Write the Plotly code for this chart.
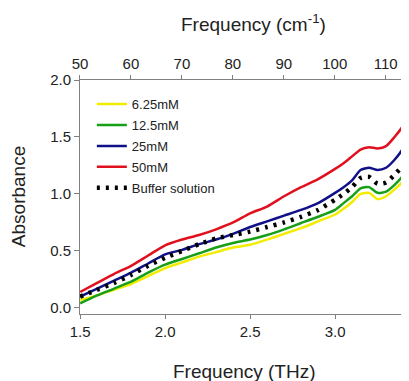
import plotly.graph_objects as go

freq_thz = [1.50, 1.60, 1.70, 1.80, 1.90, 2.00, 2.10, 2.20, 2.30, 2.40, 2.50, 2.60, 2.70,
            2.80, 2.90, 3.00, 3.05, 3.10, 3.15, 3.20, 3.25, 3.30, 3.35, 3.40, 3.44]

a_625 = [0.07, 0.11, 0.16, 0.21, 0.28, 0.35, 0.40, 0.45, 0.49, 0.53, 0.555, 0.60, 0.65,
         0.70, 0.76, 0.82, 0.87, 0.93, 1.00, 1.01, 0.955, 0.98, 1.04, 1.11, 1.19]
a_125 = [0.04, 0.11, 0.17, 0.23, 0.31, 0.38, 0.43, 0.48, 0.53, 0.57, 0.60, 0.64, 0.69,
         0.745, 0.80, 0.86, 0.92, 0.98, 1.05, 1.06, 1.01, 1.02, 1.08, 1.16, 1.25]
a_25 = [0.10, 0.17, 0.24, 0.31, 0.39, 0.47, 0.51, 0.56, 0.60, 0.65, 0.71, 0.76, 0.81,
        0.86, 0.92, 1.01, 1.06, 1.12, 1.21, 1.23, 1.21, 1.23, 1.30, 1.40, 1.52]
a_50 = [0.14, 0.22, 0.30, 0.37, 0.46, 0.55, 0.60, 0.64, 0.69, 0.75, 0.83, 0.89, 0.98,
        1.06, 1.13, 1.22, 1.27, 1.33, 1.39, 1.41, 1.40, 1.42, 1.50, 1.60, 1.74]
a_buffer = [0.10, 0.16, 0.22, 0.29, 0.37, 0.44, 0.50, 0.56, 0.61, 0.64, 0.67, 0.71, 0.75,
            0.80, 0.86, 0.95, 1.00, 1.06, 1.14, 1.15, 1.09, 1.10, 1.17, 1.25, 1.35]

series_names = ["6.25mM", "12.5mM", "25mM", "50mM", "Buffer solution"]
series_values = [a_625, a_125, a_25, a_50, a_buffer]
series_colors = ["#f2ec00", "#17a017", "#101088", "#e0101e", "#000000"]

y_ticks = [0.0, 0.5, 1.0, 1.5, 2.0]
x_ticks = [1.5, 2.0, 2.5, 3.0]
top_ticks = [50, 60, 70, 80, 90, 100, 110]

THZ_TO_CM = 33.3564
x_range = [1.499, 3.435]
top_range = [x_range[0] * THZ_TO_CM, x_range[1] * THZ_TO_CM]

FONT = "Liberation Sans, Arial, sans-serif"
TXT = "#222222"
AX = "#808080"

fig = go.Figure()
for name, vals, col in zip(series_names, series_values, series_colors):
    if name == "Buffer solution":
        line = dict(color=col, width=4.5, dash="3px,6px", shape="spline", smoothing=0.6)
    else:
        line = dict(color=col, width=2.5, shape="spline", smoothing=0.6)
    fig.add_trace(go.Scatter(x=freq_thz, y=vals, mode="lines", name=name, line=line,
                             legendgroup=name))

# carrier trace so the top (cm^-1) axis is drawn; it has no visible marks
fig.add_trace(go.Scatter(x=top_range, y=[0, 0], xaxis="x2", mode="markers",
                         marker=dict(opacity=0), showlegend=False, hoverinfo="skip"))

fig.update_layout(
    width=401, height=373,
    margin=dict(l=72, r=0, t=72, b=67),
    paper_bgcolor="white", plot_bgcolor="white",
    font=dict(family=FONT, color=TXT, size=15),
    showlegend=True,
    legend=dict(x=0.036, y=0.961, xanchor="left", yanchor="top",
                font=dict(size=13, color=TXT, family=FONT),
                bgcolor="rgba(0,0,0,0)", tracegroupgap=1, itemwidth=30),
    xaxis=dict(range=x_range, tickvals=x_ticks, tickformat=".1f", automargin=False,
               showline=True, linecolor=AX, linewidth=1,
               ticks="outside", ticklen=4, tickcolor=AX, showgrid=False, zeroline=False,
               tickfont=dict(size=15, color=TXT)),
    xaxis2=dict(range=top_range, overlaying="x", automargin=False,
                side="top", tickvals=top_ticks, showline=True, linecolor=AX, linewidth=1,
                ticks="outside", ticklen=4, tickcolor=AX, showgrid=False, zeroline=False,
                tickfont=dict(size=15, color=TXT)),
    yaxis=dict(range=[-0.053, 2.0], tickvals=y_ticks, tickformat=".1f", automargin=False,
               showline=True, linecolor=AX, linewidth=1,
               ticks="outside", ticklen=5, tickcolor=AX, showgrid=False, zeroline=False,
               tickfont=dict(size=15, color=TXT)),
    annotations=[
        dict(text="Frequency (THz)", xref="paper", yref="paper", x=0.5, y=-0.245,
             xanchor="center", yanchor="middle", showarrow=False,
             font=dict(size=19, color=TXT)),
        dict(text="Frequency (cm<sup>-1</sup>)", xref="paper", yref="paper", x=0.526, y=1.244,
             xanchor="center", yanchor="middle", showarrow=False,
             font=dict(size=19, color=TXT)),
        dict(text="Absorbance", xref="paper", yref="paper", x=-0.188, y=0.5,
             xanchor="center", yanchor="middle", showarrow=False, textangle=-90,
             font=dict(size=19, color=TXT)),
    ],
)

fig.write_html("out.html")
